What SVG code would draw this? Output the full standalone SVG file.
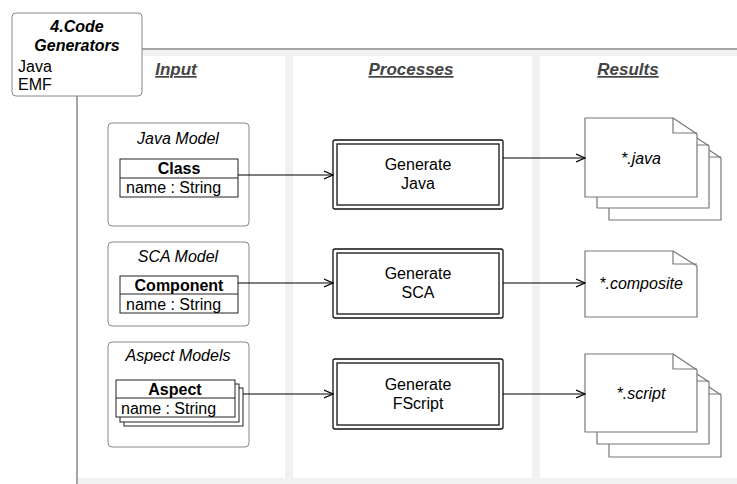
<svg xmlns="http://www.w3.org/2000/svg" width="737" height="484" viewBox="0 0 737 484">
<defs>
<style>
text{font-family:"Liberation Sans",Arial,Helvetica,sans-serif;font-size:16px;fill:#000}
.b{font-weight:bold}
.i{font-style:italic}
.hdr{font-size:17px;font-weight:bold;font-style:italic;fill:#444;text-decoration:underline}
.c{text-anchor:middle}
.band{fill:#f1f1f1}
.model{fill:#fff;stroke:#888;stroke-width:1}
.cls{fill:#fff;stroke:#222;stroke-width:1}
.proc{fill:#fff;stroke:#111;stroke-width:1.3}
.doc{fill:#fff;stroke:#777;stroke-width:1.2;stroke-linejoin:round}
.fold{fill:none;stroke:#777;stroke-width:1.2}
.conn{fill:none;stroke:#000;stroke-width:1.2}
</style>
<marker id="arr" markerWidth="10" markerHeight="10" refX="9" refY="5" orient="auto" markerUnits="userSpaceOnUse">
<path d="M0,1 L9,5 L0,9" fill="none" stroke="#000" stroke-width="1.2"/>
</marker>
</defs>
<rect width="737" height="484" fill="#fff"/>

<g id="frame">
<rect class="band" x="78" y="50" width="659" height="6"/>
<rect class="band" x="285" y="50" width="8" height="434"/>
<rect class="band" x="532" y="50" width="8" height="434"/>
<rect class="band" x="78" y="478" width="659" height="6"/>
<line x1="142" y1="49" x2="737" y2="49" stroke="#888" stroke-width="1.5"/>
<line x1="77" y1="96" x2="77" y2="484" stroke="#888" stroke-width="1.5"/>
<text class="hdr c" x="176" y="75">Input</text>
<text class="hdr c" x="411" y="75">Processes</text>
<text class="hdr c" x="628" y="75">Results</text>
</g>

<g id="title">
<rect x="12" y="13" width="130" height="83" rx="4" fill="#fff" stroke="#888" stroke-width="1"/>
<text class="b i c" x="77" y="32">4.Code</text>
<text class="b i c" x="77" y="51">Generators</text>
<text x="18" y="72">Java</text>
<text x="18" y="90">EMF</text>
</g>

<g id="java-model">
<rect class="model" x="108" y="123" width="141" height="103" rx="4"/>
<text class="i c" x="178" y="144">Java Model</text>
<rect class="cls" x="120" y="159" width="118" height="38"/>
<line x1="120" y1="178" x2="238" y2="178" stroke="#222"/>
<text class="b c" x="179" y="174">Class</text>
<text x="126" y="193">name : String</text>
</g>

<g id="sca-model">
<rect class="model" x="108" y="242" width="141" height="84" rx="4"/>
<text class="i c" x="178" y="262">SCA Model</text>
<rect class="cls" x="120" y="276" width="118" height="37"/>
<line x1="120" y1="294" x2="238" y2="294" stroke="#222"/>
<text class="b c" x="179" y="291">Component</text>
<text x="126" y="310">name : String</text>
</g>

<g id="aspect-models">
<rect class="model" x="108" y="342" width="141" height="105" rx="4"/>
<text class="i c" x="178" y="361">Aspect Models</text>
<rect class="cls" x="124" y="388" width="119" height="38"/>
<rect class="cls" x="120" y="384" width="119" height="38"/>
<rect class="cls" x="116" y="380" width="119" height="37"/>
<line x1="116" y1="398" x2="235" y2="398" stroke="#222"/>
<text class="b c" x="175" y="395">Aspect</text>
<text x="121" y="414">name : String</text>
</g>

<g id="gen-java">
<rect class="proc" x="333" y="140" width="170" height="69" rx="2"/>
<rect class="proc" x="337" y="144" width="162" height="61"/>
<text class="c" x="418" y="170">Generate</text>
<text class="c" x="418" y="189">Java</text>
</g>

<g id="gen-sca">
<rect class="proc" x="333" y="249" width="170" height="69" rx="2"/>
<rect class="proc" x="337" y="253" width="162" height="61"/>
<text class="c" x="418" y="279">Generate</text>
<text class="c" x="418" y="298">SCA</text>
</g>

<g id="gen-fscript">
<rect class="proc" x="333" y="359" width="170" height="70" rx="2"/>
<rect class="proc" x="337" y="363" width="162" height="62"/>
<text class="c" x="418" y="390">Generate</text>
<text class="c" x="418" y="409">FScript</text>
</g>

<g id="java-files">
<path class="doc" d="M609,142 H697 L721,158 V220 H609 Z"/>
<path class="fold" d="M697,142 V157 H721"/>
<path class="doc" d="M597,130 H685 L709,146 V208 H597 Z"/>
<path class="fold" d="M685,130 V145 H709"/>
<path class="doc" d="M585,118 H673 L697,134 V197 H585 Z"/>
<path class="fold" d="M673,118 V133 H697"/>
<text class="i c" x="641" y="164">*.java</text>
</g>

<g id="composite-file">
<path class="doc" d="M585,251 H673 L697,266 V317 H585 Z"/>
<path class="fold" d="M673,251 V264 H697"/>
<text class="i c" x="641" y="289">*.composite</text>
</g>

<g id="script-files">
<path class="doc" d="M609,379 H697 L721,395 V457 H609 Z"/>
<path class="fold" d="M697,379 V394 H721"/>
<path class="doc" d="M597,366 H685 L709,382 V444 H597 Z"/>
<path class="fold" d="M685,366 V381 H709"/>
<path class="doc" d="M585,354 H673 L697,370 V432 H585 Z"/>
<path class="fold" d="M673,354 V369 H697"/>
<text class="i c" x="641" y="399">*.script</text>
</g>

<g id="connectors">
<line class="conn" x1="238" y1="175" x2="333" y2="175" marker-end="url(#arr)"/>
<line class="conn" x1="238" y1="283" x2="333" y2="283" marker-end="url(#arr)"/>
<line class="conn" x1="243" y1="394" x2="333" y2="394" marker-end="url(#arr)"/>
<line class="conn" x1="503" y1="158" x2="585" y2="158" marker-end="url(#arr)"/>
<line class="conn" x1="503" y1="283" x2="585" y2="283" marker-end="url(#arr)"/>
<line class="conn" x1="503" y1="394" x2="585" y2="394" marker-end="url(#arr)"/>
</g>
</svg>
